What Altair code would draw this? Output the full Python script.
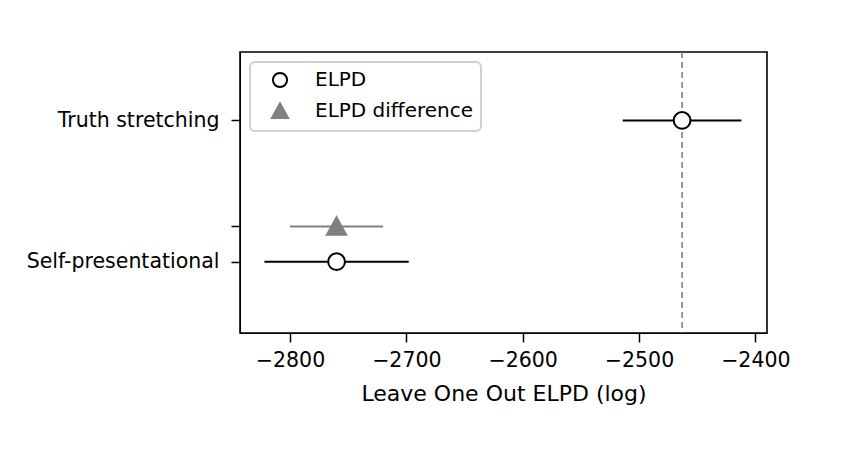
import altair as alt
import pandas as pd

# ---- data ----
models = ["Truth stretching", "Self-presentational"]
elpd = [-2463, -2760]
elpd_se = [51, 62]
model_y = [1.0, 0.0]

diff_models = ["Self-presentational"]
diff_elpd = [-2760]
diff_se = [40]
diff_y = [0.25]

best_elpd = [-2463]
x_ticks = [-2800, -2700, -2600, -2500, -2400]
y_ticks = [0.0, 0.25, 1.0]

FONT = "DejaVu Sans"
TRIANGLE = "M0,-1.1L1.15,1L-1.15,1Z"

df_elpd = pd.DataFrame({
    "model": models,
    "elpd": elpd,
    "lo": [e - s for e, s in zip(elpd, elpd_se)],
    "hi": [e + s for e, s in zip(elpd, elpd_se)],
    "y": model_y,
    "series": ["ELPD"] * len(models),
})
df_diff = pd.DataFrame({
    "model": diff_models,
    "elpd": diff_elpd,
    "lo": [e - s for e, s in zip(diff_elpd, diff_se)],
    "hi": [e + s for e, s in zip(diff_elpd, diff_se)],
    "y": diff_y,
    "series": ["ELPD difference"] * len(diff_models),
})
df_pts = pd.concat([df_elpd, df_diff], ignore_index=True)
df_best = pd.DataFrame({"best": best_elpd})

xscale = alt.Scale(domain=[-2843, -2390], nice=False, zero=False)
yscale = alt.Scale(domain=[-0.505, 1.485], nice=False, zero=False)

xaxis = alt.Axis(values=x_ticks, format="d", title="Leave One Out ELPD (log)",
                 grid=False, tickSize=9, labelFontSize=20.5, titleFontSize=22,
                 labelColor="black", titleColor="black", domainColor="black",
                 tickColor="black", tickWidth=1.5, labelPadding=8, titlePadding=13,
                 titleFontWeight="normal", labelFont=FONT, titleFont=FONT)
yaxis = alt.Axis(values=y_ticks, title=None, grid=False, tickSize=9,
                 labelFontSize=20.5, labelColor="black", domainColor="black",
                 tickColor="black", tickWidth=1.5, labelPadding=12, labelFont=FONT,
                 labelLimit=400,
                 labelExpr="datum.value == 1 ? 'Truth stretching' : (datum.value == 0 ? 'Self-presentational' : '')")

x_mid = alt.X("elpd:Q", scale=xscale, axis=xaxis)
x_lo = alt.X("lo:Q", scale=xscale, axis=xaxis)
base_y = alt.Y("y:Q", scale=yscale, axis=yaxis)

rule_elpd = alt.Chart(df_elpd).mark_rule(color="black", strokeWidth=2).encode(
    x=x_lo, x2="hi:Q", y=base_y
)

rule_diff = alt.Chart(df_diff).mark_rule(color="grey", strokeWidth=2).encode(
    x=x_lo, x2="hi:Q", y=base_y
)

best_line = alt.Chart(df_best).mark_rule(color="grey", strokeWidth=1.6, strokeDash=[6, 4]).encode(
    x=alt.X("best:Q", scale=xscale, axis=xaxis)
)

dom = ["ELPD", "ELPD difference"]
leg = alt.Legend(title=None, orient="top-left", offset=10)
points = alt.Chart(df_pts).mark_point(size=280, strokeWidth=2, opacity=1, filled=False).encode(
    x=x_mid, y=base_y,
    shape=alt.Shape("series:N", scale=alt.Scale(domain=dom, range=["circle", TRIANGLE]), legend=leg),
    fill=alt.Fill("series:N", scale=alt.Scale(domain=dom, range=["white", "grey"]), legend=leg),
    stroke=alt.Stroke("series:N", scale=alt.Scale(domain=dom, range=["black", "grey"]), legend=leg),
)

chart = alt.layer(best_line, rule_elpd, rule_diff, points).properties(
    width=527, height=281,
    padding={"left": 18, "top": 43, "right": 10, "bottom": 10},
).configure_view(
    stroke="black", strokeWidth=1.6
).configure_legend(
    labelFontSize=20, labelFont=FONT, labelColor="black",
    strokeColor="#d0d0d0", strokeWidth=2, cornerRadius=5, fillColor="white",
    padding=8, symbolSize=200, symbolStrokeWidth=2, labelOffset=25,
    symbolOffset=12, rowPadding=7, labelLimit=300
)

chart.save("out.html", embed_options={"renderer": "svg", "actions": False})
